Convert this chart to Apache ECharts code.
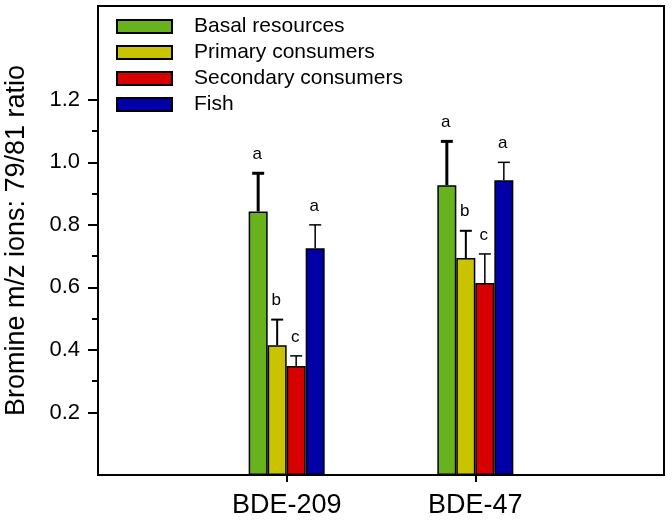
<!DOCTYPE html>
<html>
<head>
<meta charset="utf-8">
<script src="https://cdn.jsdelivr.net/npm/echarts@6/dist/echarts.min.js"></script>
<style>html,body{margin:0;padding:0;background:#fff}#c{width:672px;height:522px}</style>
</head>
<body>
<div id="c"></div>
<script>
// ---- data ----
var categories = ['', 'BDE-209', 'BDE-47', ''];
var seriesNames = ['Basal resources', 'Primary consumers', 'Secondary consumers', 'Fish'];
var basalMean     = [null, 0.843, 0.927, null];
var primaryMean   = [null, 0.415, 0.694, null];
var secondaryMean = [null, 0.349, 0.614, null];
var fishMean      = [null, 0.725, 0.943, null];
var basalUpper     = [null, 0.965, 1.067, null];
var primaryUpper   = [null, 0.497, 0.781, null];
var secondaryUpper = [null, 0.381, 0.707, null];
var fishUpper      = [null, 0.800, 1.000, null];
var lettersBDE209 = ['a', 'b', 'c', 'a'];
var lettersBDE47  = ['a', 'b', 'c', 'a'];
var majorTicks = [0.2, 0.4, 0.6, 0.8, 1.0, 1.2];
var minorTicks = [0.3, 0.5, 0.7, 0.9, 1.1];

// ---- styling ----
var colors = ['#68b31d', '#c9c300', '#d60000', '#0000a6'];
var errWidths = [3, 2, 1.5, 1.5];
var barW = 19;
var FONT = 'Liberation Sans, Arial, sans-serif';

var means = [basalMean, primaryMean, secondaryMean, fishMean];
var uppers = [basalUpper, primaryUpper, secondaryUpper, fishUpper];
var letterSets = [null, lettersBDE209, lettersBDE47, null];

var errData = [];
var errLetters = [];
for (var g = 1; g <= 2; g++) {
  for (var s = 0; s < 4; s++) {
    errData.push([g, s, means[s][g], uppers[s][g]]);
    errLetters.push(letterSets[g][s]);
  }
}

var barSeries = seriesNames.map(function (n, i) {
  return {
    name: n, type: 'bar', data: means[i], barWidth: barW, barGap: '0%',
    itemStyle: { color: colors[i], borderColor: '#000', borderWidth: 1.5 },
    yAxisIndex: 0
  };
});

var chart = echarts.init(document.getElementById('c'), null, { renderer: 'canvas' });
chart.setOption({
  animation: false,
  textStyle: { fontFamily: FONT },
  grid: { left: 98, right: 8, top: 6, bottom: 47, show: true, borderColor: '#000', borderWidth: 2,
    backgroundColor: 'transparent', containLabel: false, outerBoundsMode: 'none' },
  legend: {
    data: seriesNames, orient: 'vertical', left: 116, top: 16, padding: 0,
    itemWidth: 55, itemHeight: 13, itemGap: 5, icon: 'rect',
    textStyle: { fontSize: 21, color: '#000', fontFamily: FONT, padding: [0, 0, 0, 17] }
  },
  xAxis: {
    type: 'category', data: categories, boundaryGap: false,
    axisLine: { lineStyle: { color: '#000', width: 2 } },
    axisTick: { show: true, length: 7, lineStyle: { color: '#000', width: 2 },
      interval: function (idx) { return idx === 1 || idx === 2; } },
    axisLabel: { fontSize: 27, color: '#000', margin: 17, fontFamily: FONT,
      interval: function (idx) { return idx === 1 || idx === 2; } },
    splitLine: { show: false }
  },
  yAxis: [
    {
      type: 'value', min: 0, max: 1.5, position: 'left',
      name: 'Bromine m/z ions: 79/81 ratio', nameLocation: 'middle', nameGap: 68,
      nameTextStyle: { fontSize: 27, color: '#000', fontFamily: FONT },
      axisLine: { show: true, lineStyle: { color: '#000', width: 2 } },
      axisTick: { show: true, length: 10, lineStyle: { color: '#000', width: 2 }, customValues: majorTicks },
      axisLabel: { fontSize: 22, color: '#000', margin: 18, fontFamily: FONT, customValues: majorTicks,
        formatter: function (v) { return v.toFixed(1); } },
      splitLine: { show: false }
    },
    {
      type: 'value', min: 0, max: 1.5, position: 'left', offset: 0,
      axisLine: { show: false },
      axisTick: { show: true, length: 6, lineStyle: { color: '#000', width: 2 }, customValues: minorTicks },
      axisLabel: { show: false },
      splitLine: { show: false }
    }
  ],
  series: barSeries.concat([{
    type: 'custom', yAxisIndex: 0, z: 5,
    data: errData,
    encode: { x: 0, y: [2, 3] },
    renderItem: function (params, api) {
      var c = api.value(0), s = api.value(1), m = api.value(2), u = api.value(3);
      var p0 = api.coord([c, m]);
      var p1 = api.coord([c, u]);
      var x = p0[0] + (s - 1.5) * barW;
      var w = errWidths[s];
      return {
        type: 'group',
        children: [
          { type: 'line', shape: { x1: x, y1: p0[1], x2: x, y2: p1[1] }, style: { stroke: '#000', lineWidth: w } },
          { type: 'line', shape: { x1: x - 6, y1: p1[1], x2: x + 6, y2: p1[1] }, style: { stroke: '#000', lineWidth: w } },
          { type: 'text', style: { text: errLetters[params.dataIndex], x: x - 1, y: p1[1] - 19,
              align: 'center', verticalAlign: 'middle', fontSize: 17, fill: '#000', fontFamily: FONT } }
        ]
      };
    }
  }])
});
</script>
</body>
</html>
